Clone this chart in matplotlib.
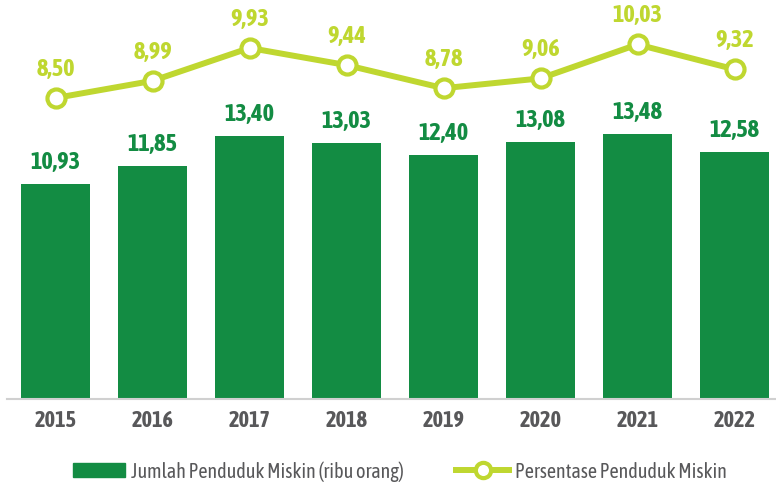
import matplotlib
matplotlib.use('Agg')
import matplotlib.pyplot as plt
from matplotlib.patches import Patch
from matplotlib.lines import Line2D

years = ['2015', '2016', '2017', '2018', '2019', '2020', '2021', '2022']
jumlah = [10.93, 11.85, 13.40, 13.03, 12.40, 13.08, 13.48, 12.58]
persen = [8.50, 8.99, 9.93, 9.44, 8.78, 9.06, 10.03, 9.32]

green = '#138c43'
lime = '#bfd730'
gray = '#58585a'
plt.rcParams['font.family'] = ['Asap Condensed', 'DejaVu Sans']

W, H = 776, 489
fig = plt.figure(figsize=(W / 100, H / 100), dpi=100)
ax = fig.add_axes([7 / W, 89 / H, 769 / W, 400 / H])
x = list(range(len(years)))

ax.bar(x, jumlah, width=0.72, color=green, zorder=2)
ax.set_xlim(-0.5, -0.5 + 769 / 97)
ax.set_ylim(0, 400 / 19.65)
for xi, v in zip(x, jumlah):
    ax.annotate(f'{v:.2f}'.replace('.', ','), (xi, v), xytext=(0, 8), textcoords='offset points',
                ha='center', va='bottom', color=green, fontsize=17.5, fontweight='bold')

for s in ['top', 'right', 'left']:
    ax.spines[s].set_visible(False)
ax.spines['bottom'].set_color('#d0d0d0')
ax.spines['bottom'].set_linewidth(1.5)
ax.spines['bottom'].set_zorder(3)
ax.set_yticks([])
ax.set_xticks(x)
ax.set_xticklabels(years, fontsize=16, fontweight='bold', color=gray)
ax.tick_params(axis='x', length=0, pad=7)

ax2 = ax.twinx()
ax2.set_ylim(-0.1, -0.1 + 400 / 35)
ax2.axis('off')
ax2.plot(x, persen, color=lime, lw=4.3, marker='o', ms=13, mfc='white', mec=lime, mew=3, zorder=3)
for xi, v in zip(x, persen):
    ax2.annotate(f'{v:.2f}'.replace('.', ','), (xi, v), xytext=(0, 13), textcoords='offset points',
                 ha='center', va='bottom', color=lime, fontsize=17.5, fontweight='bold')

handles = [Patch(color=green),
           Line2D([], [], color=lime, lw=4.3, marker='o', ms=11, mfc='white', mec=lime, mew=3)]
labels = ['Jumlah Penduduk Miskin (ribu orang)', 'Persentase Penduduk Miskin']
fig.legend(handles, labels, loc='center', bbox_to_anchor=(0.515, 1 - 472 / H), ncol=2, frameon=False,
           fontsize=14.5, labelcolor=gray, handlelength=2.6, handleheight=0.7, handletextpad=0.3,
           columnspacing=2.6)

fig.savefig('out.png', dpi=100)
